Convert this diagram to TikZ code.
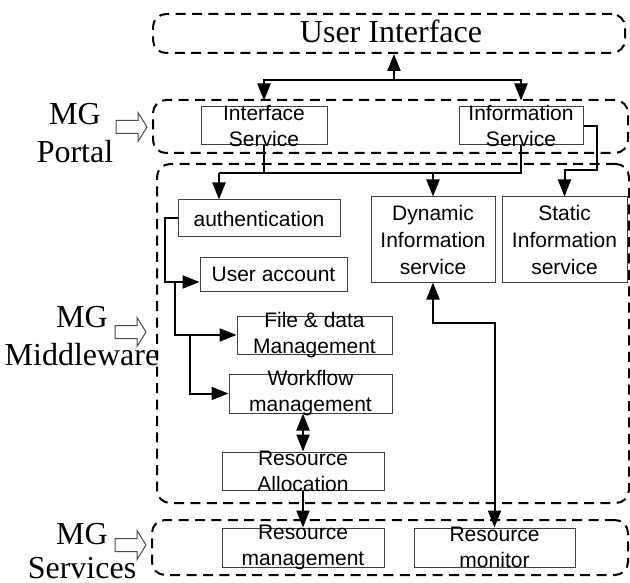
\documentclass[tikz,border=0pt]{standalone}
\usepackage{fontspec}
\setmainfont{Liberation Serif}
\setsansfont{Liberation Sans}
\usetikzlibrary{arrows.meta}
\tikzset{
  grp/.style={draw, line width=1pt, dash pattern=on 5pt off 3.2pt, rounded corners=6.5pt, inner sep=0pt},
  sbox/.style={draw=black!75, line width=0.5pt, inner sep=0pt},
  tx/.style={font=\sffamily\fontsize{10.5}{13}\selectfont, align=center, inner sep=0pt},
  txd/.style={font=\sffamily\fontsize{10.5}{13.5}\selectfont, align=center, inner sep=0pt},
  lbl/.style={font=\fontsize{16}{19}\selectfont, anchor=base, inner sep=0pt},
  ln/.style={line width=1pt},
  arr/.style={line width=1pt, -{Triangle[length=8.5pt,width=6.5pt]}},
  darr/.style={line width=1pt, {Triangle[length=8.5pt,width=6.5pt]}-{Triangle[length=8.5pt,width=6.5pt]}},
  harrow/.pic={\draw[line width=0.5pt, black!70] (0,-6.5) -- (22,-6.5) -- (22,-14.5) -- (31,0) -- (22,14.5) -- (22,6.5) -- (0,6.5) -- cycle;}
}
\begin{document}
\begin{tikzpicture}[x=0.5pt, y=-0.5pt]
\useasboundingbox (0,0) rectangle (630,582);

% group containers
\node[grp, minimum width=236pt, minimum height=19.5pt] (uif) at (389,33.5) {};
\node[lbl] (uift) at (391,43) {User Interface};
\node[grp, minimum width=237.5pt, minimum height=26.5pt] (portal) at (390.5,126.5) {};
\node[grp, minimum width=236pt, minimum height=169.5pt] (mware) at (393,333.5) {};
\node[grp, minimum width=238pt, minimum height=27.5pt] (svcs) at (390,547.5) {};

% side labels
\node[lbl] (mg1) at (75,125) {MG};
\node[lbl] (portalt) at (75,163) {Portal};
\node[lbl] (mg2) at (82,327) {MG};
\node[lbl] (mwt) at (82,365) {Middleware};
\node[lbl] (mg3) at (82,544) {MG};
\node[lbl] (svct) at (82,578) {Services};
\pic at (116,127) {harrow};
\pic at (115,332) {harrow};
\pic at (115,545) {harrow};

% boxes
\node[sbox, minimum width=63pt, minimum height=19pt, label={[tx]center:Interface\\Service}] (ifs) at (264,126) {};
\node[sbox, minimum width=62pt, minimum height=19pt, label={[tx]center:Information\\Service}] (infs) at (521,126) {};
\node[sbox, minimum width=81pt, minimum height=18.5pt, label={[tx]center:authentication}] (auth) at (259,218.5) {};
\node[sbox, minimum width=62pt, minimum height=42.5pt, label={[txd]center:Dynamic\\Information\\service}] (dyn) at (433,239.5) {};
\node[sbox, minimum width=62.5pt, minimum height=42.5pt, label={[txd]center:Static\\Information\\service}] (stat) at (564.5,239.5) {};
\node[sbox, minimum width=73.5pt, minimum height=16.5pt, label={[tx]center:User account}] (ua) at (273.5,274.5) {};
\node[sbox, minimum width=77.5pt, minimum height=19pt, label={[tx]center:File \& data\\Management}] (file) at (314.5,335) {};
\node[sbox, minimum width=81.5pt, minimum height=19.5pt, label={[tx]center:Workflow\\management}] (wf) at (310.5,393.5) {};
\node[sbox, minimum width=81pt, minimum height=19pt, label={[tx]center:Resource\\Allocation}] (ra) at (303,471) {};
\node[sbox, minimum width=81pt, minimum height=19.5pt, label={[tx]center:Resource\\management}] (rm) at (303,547.5) {};
\node[sbox, minimum width=80.5pt, minimum height=19.5pt, label={[tx]center:Resource\\monitor}] (rmon) at (494.5,547.5) {};

% connectors
\coordinate (t1) at (394,80);
\draw[arr] (t1) -- (t1 |- uif.south);
\draw[arr, shorten >=3pt] (t1) -| (ifs.north);
\draw[arr, shorten >=3pt] (t1) -| (infs.north);

\coordinate (hl) at (219,173);
\draw[ln] (ifs.south) -- (ifs.south |- hl);
\draw[ln] (infs.south) |- (hl);
\draw[arr] (hl) -- (hl |- auth.north);
\draw[arr] (dyn.north |- hl) -- (dyn.north);

\coordinate (r1) at (597,170);
\draw[arr] (infs.east) -| (r1) -| (stat.north);

\coordinate (c1) at (165,282);
\coordinate (c2) at (175,282);
\coordinate (c3) at (190,335);
\draw[arr] (auth.west) -| (c1) -- (ua.west |- c1);
\draw[arr] (c2) |- (file.west);
\draw[arr] (c3) |- (wf.west);

\draw[darr] (ra.north |- wf.south) -- (ra.north);
\draw[arr] (ra.south) -- (rm.north);

\coordinate (d1) at (494.5,323);
\draw[darr] (dyn.south) |- (d1) -- (rmon.north);
\end{tikzpicture}
\end{document}
